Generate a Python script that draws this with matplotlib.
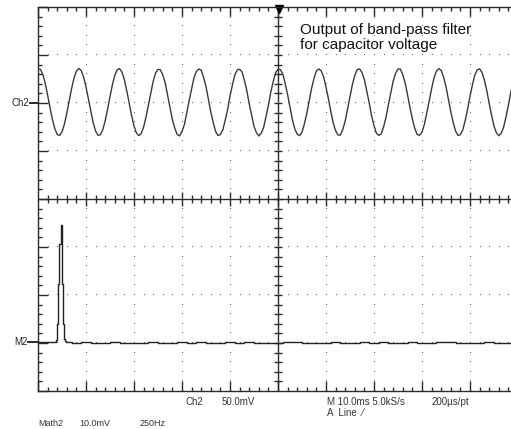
import numpy as np
import matplotlib
matplotlib.use("Agg")
import matplotlib.pyplot as plt

plt.rcParams["font.family"] = ["Liberation Sans", "DejaVu Sans"]

# Ch2 record: band-pass filtered capacitor voltage, one sample every 0.5 ms (mV)
ch2_dt_ms = 0.5
ch2_mv = [
    35.6, 35.1, 29.8, 20.5, 8.4, -4.7, -17.0, -26.8, -32.7, -33.8,
    -30.1, -22.0, -10.6, 2.3, 15.1, 25.9, 33.2, 36.0, 33.9, 27.1,
    16.7, 4.1, -9.0, -20.6, -29.2, -33.6, -33.1, -27.8, -18.5, -6.4,
    6.7, 19.0, 28.8, 34.7, 35.8, 32.1, 24.0, 12.6, -0.3, -13.1,
    -23.9, -31.2, -34.0, -31.9, -25.1, -14.7, -2.1, 11.0, 22.6, 31.2,
    35.0, 34.6, 29.2, 20.9, 8.0, -5.2, -17.4, -26.3, -32.9, -34.2,
    -29.7, -22.4, -10.1, 2.8, 14.6, 26.3, 32.8, 35.4, 34.2, 26.6,
    17.1, 3.6, -9.4, -20.2, -29.6, -33.9, -32.8, -28.1, -18.0, -6.9,
    7.2, 18.6, 29.2, 34.3, 35.2, 32.5, 23.6, 13.0, -0.8, -12.7,
    -24.3, -30.8, -34.3, -31.5, -25.5, -14.3, -2.5, 11.4, 22.2, 31.6,
    35.2, 34.8, 30.1, 20.1, 8.7, -4.4, -17.3, -27.1, -32.4, -34.0,
    -30.4, -21.7, -10.9, 2.0, 15.4, 25.6, 33.5, 35.5, 33.6, 27.4,
    16.4, 4.5, -8.7, -20.9, -28.9, -33.3, -33.4, -27.5, -18.8, -6.1,
    6.4, 19.3, 28.5, 34.9, 35.5, 31.8, 24.3, 12.3, 0.1, -13.4,
    -23.6, -31.5, -33.7, -32.2, -24.8, -15.0, -1.8, 10.7, 22.9, 30.9,
    35.4, 35.3, 29.5, 20.7, 8.2, -4.9, -16.8, -26.6, -32.9, -33.6,
    -30.3, -22.2, -10.4, 2.5, 14.9, 26.1, 33.0, 35.8, 34.0, 26.9,
    16.9, 3.9, -9.2, -20.4, -29.4, -33.8, -32.9, -28.0, -18.3, -6.6,
    6.9, 18.8, 29.0, 34.5, 35.6, 31.9, 23.8, 12.8, -0.5, -12.9,
    -24.1, -31.0, -34.1, -31.7, -25.3, -14.5, -2.3, 11.2, 22.4, 31.0,
]

# Math2: FFT magnitude of Ch2 (Hz, mV)
m2_freq_hz = [
    0, 25, 50, 75, 90, 95, 100, 105, 110, 115, 120, 125, 130, 135, 140, 145,
    150, 200, 250, 300, 350, 400, 450, 500, 550, 600, 650, 700, 750, 800,
    850, 900, 950, 1000, 1050, 1100, 1150, 1200, 1250, 1300, 1350, 1400,
    1450, 1500, 1550, 1600, 1650, 1700, 1750, 1800, 1850, 1900, 1950, 2000,
    2050, 2100, 2150, 2200, 2250, 2300, 2350, 2400, 2450, 2500,
]
m2_mag_mv = [
    0.2, 0.2, 0.2, 0.3, 0.3, 0.6, 4.0, 12.3, 20.6, 20.6, 24.6, 20.6, 12.3, 4.0, 0.8, 0.5,
    0.2, 0.0, 0.2, 0.0, 0.1, 0.3, 0.1, 0.0, 0.1, 0.3, 0.1, 0.0, 0.2, 0.1,
    0.3, 0.0, 0.1, 0.2, 0.0, 0.3, 0.1, 0.1, 0.0, 0.2, 0.3, 0.1, 0.0,
    0.1, 0.3, 0.1, 0.0, 0.2, 0.1, 0.3, 0.0, 0.1, 0.3, 0.1,
    0.0, 0.2, 0.3, 0.1, 0.0, 0.1, 0.3, 0.1, 0.0, 0.1,
]

# Scope settings
ms_per_div = 10.0
hz_per_div = 250.0
ch2_mv_per_div = 50.0
m2_mv_per_div = 10.0
n_xdiv, n_ydiv = 10, 8
ch2_ref_div = 6      # Ch2 ground marker, divisions above the bottom
m2_ref_div = 1       # Math2 reference marker

# Screen geometry (pixels)
W, H = 511, 429
left_px, bottom_px, div_px = 38, 391, 48
ink = "#2b2b2b"
trace = "#3a3a3a"

fig = plt.figure(figsize=(W / 100, H / 100), dpi=100)
rect = [left_px / W, (H - bottom_px) / H, n_xdiv * div_px / W, n_ydiv * div_px / H]

# Graticule, in divisions
ax = fig.add_axes(rect)
ax.set_xlim(0, n_xdiv)
ax.set_ylim(0, n_ydiv)
for s in ax.spines.values():
    s.set_color(ink)
    s.set_linewidth(1.0)
ax.set_xticks(np.arange(0, n_xdiv + 1, 1))
ax.set_xticks(np.arange(0, n_xdiv + 0.01, 0.2), minor=True)
ax.set_yticks(np.arange(0, n_ydiv + 1, 1))
ax.set_yticks(np.arange(0, n_ydiv + 0.01, 0.2), minor=True)
ax.tick_params(which="both", direction="in", top=True, bottom=True, left=True, right=False,
               labelbottom=False, labelleft=False, color=ink, width=1.0)
ax.tick_params(which="major", length=7.5)
ax.tick_params(which="minor", length=3.2)

# center crosshair with its small ticks
cx, cy = n_xdiv / 2, n_ydiv / 2
ax.axvline(cx, color=ink, lw=1.0)
ax.axhline(cy, color=ink, lw=1.0)
fine = np.arange(0.2, n_xdiv, 0.2)
is_major = np.isclose(fine, np.round(fine))
ax.vlines(fine[~is_major], cy - 0.075, cy + 0.075, color=ink, lw=1.0)
ax.vlines(fine[is_major], cy - 0.14, cy + 0.14, color=ink, lw=1.0)
fine_y = np.arange(0.2, n_ydiv, 0.2)
ax.hlines(fine_y, cx - 0.09, cx + 0.09, color=ink, lw=1.0)

# dotted division lines
for xg in range(1, n_xdiv):
    if xg == cx:
        continue
    ax.plot(np.full(fine_y.size, xg), fine_y, ",", color="#666666")
for yg in range(1, n_ydiv):
    if yg == cy:
        continue
    ax.plot(fine, np.full(fine.size, yg), ",", color="#666666")

# trigger position marker
ax.plot(cx + 0.03, n_ydiv - 0.05, marker="v", ms=5.5, color="black", clip_on=False)

# channel reference markers
ax.plot([-0.17, 0], [ch2_ref_div, ch2_ref_div], color=ink, lw=1.4, clip_on=False)
ax.text(-0.18, ch2_ref_div, "Ch2", ha="right", va="center", fontsize=7, color="#222222")
ax.plot([-0.2, 0], [m2_ref_div + 0.02, m2_ref_div + 0.02], color=ink, lw=1.4, clip_on=False)
ax.text(-0.21, m2_ref_div + 0.02, "M2", ha="right", va="center", fontsize=7, color="#222222")

# Ch2 trace in its own units
ax_ch2 = fig.add_axes(rect)
ax_ch2.set_xlim(0, ms_per_div * n_xdiv)
ax_ch2.set_ylim(-ch2_ref_div * ch2_mv_per_div, (n_ydiv - ch2_ref_div) * ch2_mv_per_div)
ax_ch2.axis("off")
ax_ch2.patch.set_alpha(0)
t_ms = np.arange(len(ch2_mv)) * ch2_dt_ms
ax_ch2.plot(t_ms, ch2_mv, color=trace, lw=1.0)

# Math2 spectrum in its own units
ax_m2 = fig.add_axes(rect)
ax_m2.set_xlim(0, hz_per_div * n_xdiv)
ax_m2.set_ylim(-m2_ref_div * m2_mv_per_div, (n_ydiv - m2_ref_div) * m2_mv_per_div)
ax_m2.axis("off")
ax_m2.patch.set_alpha(0)
ax_m2.plot(m2_freq_hz, m2_mag_mv, drawstyle="steps-mid", color="#222222", lw=1.0)

# annotation
fig.text(300 / W, 1 - 23 / H, "Output of band-pass filter\nfor capacitor voltage",
         ha="left", va="top", fontsize=11, linespacing=1.05, color="#111111")

# readout lines below the screen
def readout(x, y, s, size=7):
    fig.text(x / W, 1 - y / H, s, ha="left", va="center", fontsize=size, color="#333333")

readout(185, 402, "Ch2")
readout(222, 402, "50.0mV")
readout(327, 402, "M 10.0ms 5.0kS/s")
readout(432, 402, "200µs/pt")
readout(327, 413, "A  Line  ⁄")
readout(38, 423, "Math2", 6.5)
readout(79, 423, "10.0mV", 6.5)
readout(140, 423, "250Hz", 6.5)

fig.savefig("out.png", dpi=100, facecolor="white")
